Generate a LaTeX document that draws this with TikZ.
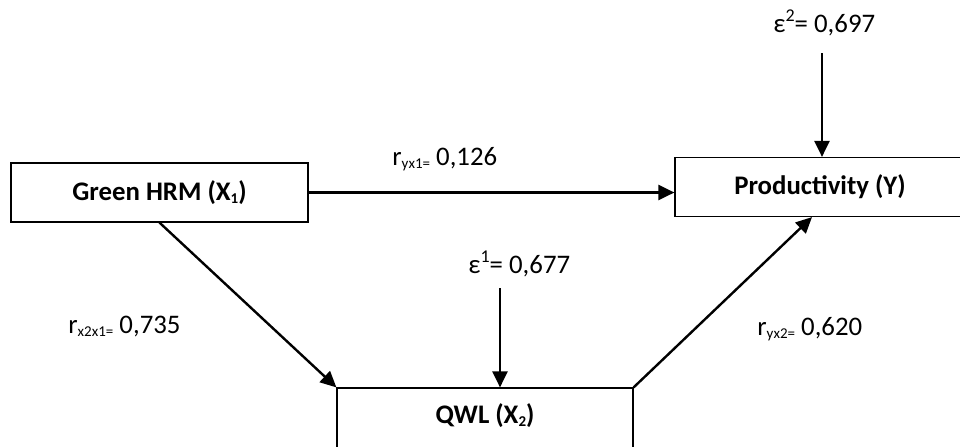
\documentclass[tikz,border=0pt]{standalone}
\usepackage{fontspec}
\setmainfont{Carlito}
\usetikzlibrary{arrows.meta,positioning}
\newcommand{\lowsub}[1]{\raisebox{-0.25ex}{\fontsize{7.5}{9}\selectfont #1}}
\newcommand{\upsup}[1]{\raisebox{0.85ex}{\fontsize{9}{10}\selectfont #1}}

\begin{document}
\begin{tikzpicture}[x=0.5pt,y=-0.5pt,>={Triangle[length=8pt,width=7.5pt]},
    varbox/.style={draw,line width=0.6pt,minimum height=29.5pt,font=\fontsize{13.4}{16}\selectfont\bfseries},
    coef/.style={anchor=base west,inner sep=0pt,font=\fontsize{13.4}{16}\selectfont},
    path/.style={->,line width=1.2pt}]
        \useasboundingbox (0,0) rectangle (960,446);
        \node[varbox, minimum width=148.5pt] (hrm)  at (159.5,192.5) {Green HRM (X\lowsub{1})};
        \node[varbox, minimum width=145pt]   (prod) at (820,187)   {Productivity (Y)};
        \node[varbox, minimum width=148pt, minimum height=31pt] (qwl) at (485,419) {};
        \node[coef, anchor=base] (qwltxt) at (485,423) {\bfseries QWL (X\lowsub{2})};
        \node[coef] (eps2) at (773,32)  {ε\upsup{2}= 0,697};
        \node[coef] (eps1) at (468,273) {ε\upsup{1}= 0,677};
        \node[coef] (ryx1)  at (392,165) {r\lowsub{yx1=} 0,126};
        \node[coef] (rx2x1) at (68,333)  {r\lowsub{x2x1=} 0,735};
        \node[coef] (ryx2)  at (757,335) {r\lowsub{yx2=} 0,620};
        \coordinate (e2top) at (822,53);
        \coordinate (e1top) at (500,288);
        \path[path] (hrm.east) edge (prod.west |- hrm.east);
        \path[path] (hrm.south) edge (qwl.north west);
        \path[path] (qwl.north east) edge ([xshift=-4pt]prod.south);
        \path[path] (e2top) edge (e2top |- prod.north);
        \path[path] (e1top) edge (e1top |- qwl.north);
      \end{tikzpicture}
\end{document}
